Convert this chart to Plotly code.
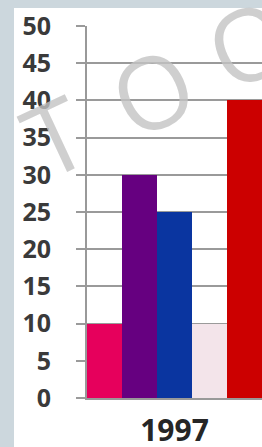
import plotly.graph_objects as go

# ---- data ----
categories = ["1997"]
series_names = ["Series 1", "Series 2", "Series 3", "Series 4", "Series 5"]
series_values = [10, 30, 25, 10, 40]
series_colors = ["#e6005c", "#660080", "#0a35a0", "#f3e4ea", "#cc0000"]
y_ticks = [0, 5, 10, 15, 20, 25, 30, 35, 40, 45, 50]

W, H = 262, 447
L, R, T, B = 87, 0, 26, 49
PW, PH = W - L - R, H - T - B


def px(x):
    return (x - L) / PW


def py(y):
    return (H - B - y) / PH


fig = go.Figure()
for name, val, col in zip(series_names, series_values, series_colors):
    fig.add_trace(go.Bar(x=categories, y=[val], name=name, marker=dict(color=col, line=dict(width=0))))

# white chart area over the blue-grey frame
fig.add_shape(type="rect", xref="paper", yref="paper",
              x0=px(14), x1=px(270), y0=py(460), y1=py(8),
              fillcolor="white", line=dict(width=0), layer="below")

# watermark letters
wm_color = "rgba(195,195,195,0.8)"
for ch, cx, cy in [("T", 54, 135), ("O", 152, 90), ("O", 248, 42)]:
    fig.add_annotation(text=ch, xref="paper", yref="paper", x=px(cx), y=py(cy),
                       xanchor="center", yanchor="middle", showarrow=False, textangle=-25,
                       font=dict(family="Open Sans", size=100, color=wm_color, weight=400))

fig.update_layout(
    width=W, height=H,
    margin=dict(l=L, r=R, t=T, b=B, pad=0),
    paper_bgcolor="#ccd7dd",
    plot_bgcolor="white",
    showlegend=False,
    barmode="group", bargap=0, bargroupgap=0,
    xaxis=dict(showgrid=False, showline=True, linecolor="#999999", linewidth=2,
               ticks="", tickfont=dict(family="Open Sans", size=30, color="#262626", weight="bold"),
               ticklabelstandoff=5, fixedrange=True, automargin=False),
    yaxis=dict(range=[0, 50], tickvals=y_ticks, showgrid=True, gridcolor="#9a9a9a", gridwidth=2,
               showline=True, linecolor="#999999", linewidth=2,
               ticks="outside", ticklen=9, tickcolor="#9a9a9a", tickwidth=2,
               tickfont=dict(family="Open Sans", size=25, color="#3a3a3a", weight="bold"),
               ticklabelstandoff=20, zeroline=False, fixedrange=True, automargin=False),
)

fig.write_html("out.html", config={"displayModeBar": False},
               post_script="document.body.style.margin='0';document.body.style.overflow='hidden';")
